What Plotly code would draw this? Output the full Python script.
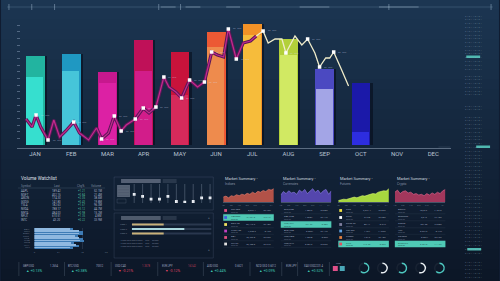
import plotly.graph_objects as go

W, H = 500, 281
def PX(x): return x / W
def PY(y): return 1 - y / H

# ---------------- data ----------------
months = ["JAN", "FEB", "MAR", "APR", "MAY", "JUN", "JUL", "AUG", "SEP", "OCT", "NOV", "DEC"]
bar_total = [134, 137, 110, 158, 140, 170, 182, 159, 114, 93]
bar_lower = [102, 111, 93, 111, 75, 147, 165, 135, 84, 20]
bar_upper_colors = ["#22b4a0", "#1f98c2", "#c7188e", "#bf1158", "#c8133b",
                    "#ec5934", "#f29227", "#b3d03a", "#4b49c1", "#1b19a9"]
bar_lower_colors = ["#36dfcf", "#46c5d9", "#dc21a4", "#d21d8a", "#d62a5b",
                    "#ee8b4d", "#f6bc3b", "#d1e963", "#a3a5e6", "#2d2de0"]

trend_a_x = [-0.25, -0.08, 0.03, 0.16, 0.36, 0.52, 0.68, 0.85, 1.07, 1.23, 1.48, 1.70,
             1.84, 2.03, 2.19, 2.38, 2.52, 2.77, 2.99, 3.15, 3.34, 3.56, 3.70, 3.89,
             4.05, 4.27, 4.49, 4.68, 4.88, 5.04, 5.21, 5.34, 5.56, 5.75, 5.95, 6.11]
trend_a_y = [39, 27, 45, 27, 7.5, 37.5, 12, 21, 34.5, 18, 7.5, 25.5,
             9, 18, 43.5, 21, 30, 39, 55.5, 48, 57, 102, 87, 79.5,
             70.5, 97.5, 87, 94.5, 139.5, 135, 132, 174, 129, 153, 156, 163.5]
trend_a_mark = [0, 0, 1, 0, 1, 0, 0, 0, 1, 0, 0, 0, 1, 0, 1, 1, 0, 1, 1, 0, 1, 1, 0, 0,
                1, 1, 0, 1, 1, 0, 0, 1, 1, 0, 0, 0]
trend_b_x = [6.11, 6.30, 6.44, 6.63, 6.82, 6.93, 7.18, 7.37, 7.53, 7.73, 7.86, 8.03, 8.14, 8.25, 8.47, 8.66]
trend_b_y = [163.5, 171, 153, 159, 159, 138, 163.5, 150, 159, 138, 117, 130.5, 130.5, 139.5, 112.5, 88.5]
trend_b_mark = [0, 1, 0, 0, 0, 1, 0, 0, 1, 0, 1, 0, 0, 1, 0, 0]

wl_header = ["Symbol", "Last", "Chg%", "Volume"]
wl_symbols = ["AAPL", "MSFT", "AMZN", "GOOG", "TSLA", "NVDA", "META", "NFLX", "INTC"]
wl_last = ["189.42", "402.15", "174.30", "141.80", "182.63", "788.17", "484.03", "610.51", "43.20"]
wl_chg = ["+1.21", "+0.84", "+2.05", "+0.43", "+1.67", "+3.12", "+0.98", "+1.35", "+0.22"]
wl_vol = ["52.1M", "21.4M", "38.6M", "19.8M", "96.3M", "44.7M", "15.2M", "4.8M", "33.9M"]
wl_volume_bars = [39, 49, 49, 44, 49, 50, 40, 45, 39]

slider_levels = [0.45, 0.35, 0.2, 0.2, 0.35, 0.08, 0.05, 0.08, 0.27, 0.27]
progress_values = [0.40, 0.66, 0.40]
progress_colors = ["#c9b27a", "#a9d6dc", "#c9b27a"]

panel_titles = ["Market Summary -"] * 4
panel_subtitles = ["Indices", "Currencies", "Futures", "Crypto"]
panel_fill = ["rgba(196,88,74,0.9)", "rgba(92,74,186,0.9)", "rgba(176,226,64,0.95)", "rgba(178,58,96,0.9)"]
panel_line = ["#e88070", "#8f80e8", "#d8f870", "#e06890"]
area_p1 = [0.35, 0.42, 0.30, 0.45, 0.40, 0.52, 0.45, 0.56, 0.50, 0.62, 0.55, 0.70, 0.60, 0.76, 0.70, 0.82, 0.75, 0.90, 0.85, 0.95]
area_p2 = [0.50, 0.75, 0.60, 0.80, 0.65, 0.70, 0.55, 0.85, 0.70, 0.90, 0.60, 0.75, 0.95, 0.70, 0.85, 0.60, 0.80, 0.90, 0.55, 0.80]
area_p3 = [0.10, 0.15, 0.20, 0.18, 0.25, 0.30, 0.35, 0.30, 0.40, 0.45, 0.42, 0.50, 0.55, 0.60, 0.58, 0.70, 0.75, 0.80, 0.78, 0.95]
area_p4 = [0.70, 0.85, 0.60, 0.75, 0.80, 0.65, 0.70, 0.55, 0.60, 0.50, 0.55, 0.45, 0.60, 0.50, 0.65, 0.55, 0.70, 0.60, 0.80, 0.90]
area_ticks = ["1D", "5D", "1M", "3M", "6M", "1Y", "5Y"]
panel_rows = [
    [("S&P 500", "5,234.1", "+0.42%"), ("NASDAQ", "16,401.8", "+0.61%"), ("DOW 30", "39,112.2", "+0.18%"),
     ("FTSE 100", "7,930.9", "-0.12%"), ("DAX", "18,492.5", "+0.33%"), ("NIKKEI", "40,168.0", "+0.27%")],
    [("EUR/USD", "1.0872", "+0.05%"), ("GBP/USD", "1.2654", "+0.11%"), ("USD/JPY", "151.32", "-0.08%"),
     ("AUD/USD", "0.6521", "+0.14%"), ("USD/CAD", "1.3578", "-0.03%"), ("USD/CHF", "0.9012", "+0.02%")],
    [("Gold", "2,231.4", "+0.52%"), ("Silver", "24.95", "+0.38%"), ("Crude Oil", "83.17", "-0.21%"),
     ("Nat Gas", "1.764", "+1.02%"), ("Copper", "4.012", "+0.15%"), ("Corn", "442.25", "-0.09%")],
    [("Bitcoin", "70,512", "+1.84%"), ("Ethereum", "3,612", "+2.10%"), ("Solana", "187.20", "+3.05%"),
     ("XRP", "0.6213", "-0.44%"), ("Cardano", "0.6541", "+0.72%"), ("Dogecoin", "0.2015", "+4.12%")],
]
panel_icon_colors = [["#e05080", "#4060e0", "#f0e060", "#c040c0", "#e05080", "#e0e0e0"],
                     None,
                     ["#f0e040", "#ffffff", "#8080a0", "#60a0e0", "#e08040", "#e05060"],
                     None]
panel_teal_row = [1, 2, 5, 5]

kpi_x = [17, 63, 110, 157, 203, 252, 300]
kpi_labels = ["GBP/USD", "BTC/USD", "USD/CAD", "EUR/JPY", "AUD/USD", "NZD/USD", "XAU/USD"]
kpi_right = ["1.2654", "70512", "1.3578", "163.42", "0.6521", "0.6012", "2231.4"]
kpi_values = ["▲ +0.13%", "▲ +0.38%", "▼ -0.21%", "▼ -0.12%", "▲ +0.44%", "▲ +0.09%", "▲ +0.52%"]
kpi_up = [1, 1, 0, 0, 1, 1, 1]

ring_fraction = [0.62, 0.55, 0.60, 0.55, 0.62]
ring_colors = ["#4ec8c0", "#e8eef2", "#4ec8c0", "#e8eef2", "#4ec8c0"]

# ---------------- figure ----------------
fig = go.Figure()
shapes, anns = [], []

def rect(x0, y0, x1, y1, fill=None, line=None, lw=0.6, layer="above"):
    shapes.append(dict(type="rect", xref="paper", yref="paper", x0=PX(x0), x1=PX(x1),
                       y0=PY(y1), y1=PY(y0), fillcolor=fill or "rgba(0,0,0,0)",
                       line=dict(color=line or "rgba(0,0,0,0)", width=lw if line else 0), layer=layer))

def hline(x0, x1, y, color, w=0.6, layer="above", dash=None):
    shapes.append(dict(type="line", xref="paper", yref="paper", x0=PX(x0), x1=PX(x1), y0=PY(y), y1=PY(y),
                       line=dict(color=color, width=w, dash=dash), layer=layer))

def vline(x, y0, y1, color, w=0.6, layer="above"):
    shapes.append(dict(type="line", xref="paper", yref="paper", x0=PX(x), x1=PX(x), y0=PY(y0), y1=PY(y1),
                       line=dict(color=color, width=w), layer=layer))

def text(x, y, s, size=3.5, color="rgba(200,210,225,0.75)", anchor="left", family="Roboto"):
    anns.append(dict(x=PX(x), y=PY(y), xref="paper", yref="paper", text=s, showarrow=False,
                     xanchor=anchor, yanchor="middle", font=dict(size=size, color=color, family=family)))

# background gradient
top_c, bot_c = (28, 54, 82), (12, 22, 38)
nb = 29
for i in range(nb):
    t = i / (nb - 1)
    c = tuple(int(top_c[k] + (bot_c[k] - top_c[k]) * t) for k in range(3))
    rect(-1, i * 10 - 1, 501, i * 10 + 10, fill="rgb(%d,%d,%d)" % c, layer="below")

# top strip
hline(5, 495, 7, "rgba(150,185,210,0.35)", 0.6)
for xx in [7, 30, 53, 158, 180, 390, 493]:
    vline(xx, 4, 10, "rgba(190,215,235,0.5)", 0.8)
for a, b in [(160, 175), (185, 200), (226, 240), (300, 330), (380, 420)]:
    hline(a, b, 7, "rgba(200,225,240,0.45)", 0.9)

# ---- main bars ----
idx = list(range(len(bar_total)))
fig.add_trace(go.Bar(x=idx, y=bar_total, width=0.52, offset=-0.2, marker=dict(color="rgba(2,6,18,0.5)", line_width=0),
                     hoverinfo="skip"))
fig.add_trace(go.Bar(x=idx, y=bar_total, width=0.52, offset=-0.26,
                     marker=dict(color=bar_upper_colors, line_width=0), hoverinfo="skip"))
fig.add_trace(go.Bar(x=idx, y=bar_lower, width=0.47, offset=-0.245,
                     marker=dict(color=bar_lower_colors, line_width=0), hoverinfo="skip"))

# trend lines
fig.add_trace(go.Scatter(x=trend_a_x, y=trend_a_y, mode="lines", line=dict(color="#5a1858", width=3.2),
                         hoverinfo="skip"))
fig.add_trace(go.Scatter(x=trend_a_x, y=trend_a_y, mode="lines", line=dict(color="#c42a8e", width=1.2),
                         hoverinfo="skip"))
fig.add_trace(go.Scatter(x=trend_b_x, y=trend_b_y, mode="lines", line=dict(color="#efebc9", width=1.3),
                         hoverinfo="skip"))
mx = [x for x, m in zip(trend_a_x + trend_b_x, trend_a_mark + trend_b_mark) if m]
my = [y for y, m in zip(trend_a_y + trend_b_y, trend_a_mark + trend_b_mark) if m]
fig.add_trace(go.Scatter(x=mx, y=my, mode="markers", marker=dict(symbol="square", size=3.5, color="#ffffff"),
                         hoverinfo="skip"))
for x, y in zip(mx, my):
    anns.append(dict(x=x, y=y, xref="x", yref="y", text="00 · 000", showarrow=False, xanchor="left",
                     yanchor="middle", xshift=2.5, font=dict(size=2.3, color="rgba(215,220,235,0.5)", family="Roboto")))

# ---- Volume watchlist ----
text(17, 179, "Volume Watchlist", 4.6, "rgba(235,240,248,0.95)")
cols = [(17, "left"), (55, "center"), (80, "center"), (103, "right")]
for (cx, an), h in zip(cols, wl_header):
    text(cx, 185.5, h, 3, "rgba(170,185,205,0.7)", an)
hline(16, 104, 188, "rgba(140,160,185,0.35)", 0.5)
for r in range(len(wl_symbols)):
    yy = 191 + r * 3.6
    text(17, yy, wl_symbols[r], 2.8, "rgba(210,220,232,0.8)", "left")
    text(55, yy, wl_last[r], 2.8, "rgba(210,220,232,0.8)", "center")
    text(80, yy, wl_chg[r], 2.8, "rgba(90,210,170,0.85)", "center")
    text(103, yy, wl_vol[r], 2.8, "rgba(210,220,232,0.8)", "right")
fig.add_trace(go.Bar(y=list(range(len(wl_volume_bars)))[::-1], x=wl_volume_bars, orientation="h", width=0.75,
                     marker=dict(color="#3e7cb6", line_width=0), xaxis="x2", yaxis="y2", hoverinfo="skip"))
fig.add_trace(go.Bar(y=list(range(len(wl_volume_bars)))[::-1], x=[v * 0.93 for v in wl_volume_bars],
                     orientation="h", width=0.3, offset=0.05,
                     marker=dict(color="#8fb8e0", line_width=0), xaxis="x2", yaxis="y2", hoverinfo="skip"))
for r in range(len(wl_volume_bars)):
    text(30, 229.3 + r * 2.25, wl_symbols[r], 2.2, "rgba(170,185,205,0.5)", "right")

# ---- middle control panel ----
rect(113, 177, 213, 210, line="rgba(120,140,170,0.3)", lw=0.6)
rect(113, 213, 213, 258, line="rgba(120,140,170,0.3)", lw=0.6)
rect(120, 179, 160, 183, fill="rgba(140,150,168,0.55)")
rect(162, 179, 176, 183, fill="rgba(140,150,168,0.2)")
rect(116, 185, 129, 197, fill="rgba(170,180,195,0.45)")
for k in range(4):
    hline(117, 128, 187 + k * 2.8, "rgba(60,75,95,0.6)", 0.5)
rect(116, 199, 125, 203, line="rgba(150,165,185,0.35)", lw=0.5)
for k, lv in enumerate(slider_levels):
    shapes.append(dict(type="line", xref="x7", yref="y7", x0=k, x1=k, y0=0, y1=1,
                       line=dict(color="rgba(160,175,195,0.4)", width=0.8)))
fig.add_trace(go.Scatter(x=list(range(len(slider_levels))), y=slider_levels, mode="markers",
                         marker=dict(symbol="square", size=2.8, color="#f4f6fa"), xaxis="x7", yaxis="y7",
                         hoverinfo="skip"))
rect(120, 216, 160, 220, fill="rgba(140,150,168,0.5)")
rect(162, 216, 176, 220, fill="rgba(140,150,168,0.2)")
text(209, 218, "●", 3, "rgba(170,185,205,0.5)", "center")
text(209, 250, "●", 3, "rgba(170,185,205,0.5)", "center")
for k, (v, c) in enumerate(zip(progress_values, progress_colors)):
    yy = 224.5 + k * 4.5
    text(117, yy, "ITEM %d" % (k + 1), 2.3, "rgba(170,185,205,0.6)")
    rect(131, yy - 0.9, 211, yy + 0.9, fill="rgba(60,75,100,0.6)")
    rect(131, yy - 0.9, 131 + 80 * v, yy + 0.9, fill=c)
for k in range(3):
    text(117, 240 + k * 3.5, "• 0000 000 0000 0000  ·  000  ·  00000", 2.3, "rgba(170,185,205,0.55)")

# ---- market summary panels ----
panel_x0 = [222, 280, 338, 395]
area_sets = [area_p1, area_p2, area_p3, area_p4]
row_y = [210.5, 217.5, 224.5, 231, 237.5, 244]
for p in range(4):
    x0 = panel_x0[p]
    text(x0 + 1, 178, panel_titles[p], 4.0, "rgba(225,232,242,0.9)")
    text(x0 + 1, 183.5, panel_subtitles[p], 3.2, "rgba(175,188,205,0.75)")
    ax = 3 + p
    fig.add_trace(go.Scatter(x=list(range(len(area_sets[p]))), y=area_sets[p], mode="lines", fill="tozeroy",
                             fillcolor=panel_fill[p], line=dict(color=panel_line[p], width=0.6),
                             xaxis="x%d" % ax, yaxis="y%d" % ax, hoverinfo="skip"))
    tr = panel_teal_row[p]
    for r, (nm, pr, ch) in enumerate(panel_rows[p]):
        yy = row_y[r]
        if r == tr:
            rect(x0 + 1, yy - 3.2, x0 + 52, yy + 3.2, fill="#4fc9b5")
            tc = "rgba(20,60,60,0.8)"
        else:
            tc = "rgba(205,215,228,0.75)"
            hline(x0 + 1, x0 + 52, yy + 3.3, "rgba(120,140,165,0.25)", 0.4)
        lx = x0 + 2
        if panel_icon_colors[p]:
            rect(x0 + 2, yy - 1.4, x0 + 4.8, yy + 1.4, fill=panel_icon_colors[p][r])
            lx = x0 + 7
        text(lx, yy - 0.8, nm, 2.4, tc)
        text(lx, yy + 1.1, "0000 00", 1.9, "rgba(160,175,195,0.55)" if r != tr else tc)
        text(x0 + 36, yy, pr, 2.4, tc, "right")
        text(x0 + 51, yy, ch, 2.4, tc, "right")

# ---- KPI strip ----
for xx in [17, 63, 110, 157, 203, 250, 282, 298, 330]:
    vline(xx, 262, 276, "rgba(150,170,190,0.35)", 0.6)
for k, x in enumerate(kpi_x):
    text(x + 2, 265.5, kpi_labels[k], 2.6, "rgba(200,210,225,0.8)")
    text(x + 42 if x < 250 else x + 27, 265.5, kpi_right[k], 2.6,
         "rgba(200,210,225,0.8)" if kpi_up[k] else "rgba(220,70,100,0.85)", "right")
    text(x + 5, 270.5, kpi_values[k], 3.6, "#3fc6b0" if kpi_up[k] else "#de4360")
text(284, 265.5, "EUR/JPY", 2.6, "rgba(200,210,225,0.8)")
text(335, 263.5, "USD", 2.4, "rgba(200,210,225,0.7)")
rect(333.5, 266, 338.5, 271, fill="#e0508a")
rect(340.5, 266, 345.5, 271, fill="#4aa8b8")

# rings
ring_cx = [365, 383.5, 403, 422, 441]
for c, f, col in zip(ring_cx, ring_fraction, ring_colors):
    fig.add_trace(go.Pie(values=[f, 1 - f], sort=False, direction="clockwise", hole=0.74,
                         marker=dict(colors=[col, "rgba(255,255,255,0.05)"], line=dict(width=0)),
                         textinfo="none", hoverinfo="skip", showlegend=False,
                         domain=dict(x=[PX(c - 5.5), PX(c + 5.5)], y=[PY(273.5), PY(262.5)])))

# ---- right column grid ----
groups = [(16, 72), (76, 98), (106, 111), (117, 178), (181, 190), (196, 256), (262, 281)]
for g0, g1 in groups:
    yy = g0
    while yy <= g1:
        text(465, yy, "0 1 0 1 1 0 1 0 1", 2.4, "rgba(165,185,205,0.5)")
        yy += 3.8
rect(468, 55.5, 482, 58, fill="#4fb8b0")
rect(478, 145.5, 492, 148, fill="#4fb8b0")
rect(469, 248, 483, 250.5, fill="#4fb8b0")
hline(440, 452, 147, "rgba(140,160,185,0.35)", 0.5)

# ---------------- layout ----------------
layout = dict(
    width=W, height=H, autosize=False, margin=dict(l=0, r=0, t=0, b=0, pad=0),
    paper_bgcolor="#101c31", plot_bgcolor="rgba(0,0,0,0)", showlegend=False, barmode="overlay",
    bargap=0,
    xaxis=dict(domain=[PX(15), PX(453)], range=[-0.5, 11.5], tickvals=list(range(12)), ticktext=months,
               tickfont=dict(size=6, color="#b9c3d3", family="Roboto"), showgrid=False, zeroline=False,
               showline=True, linecolor="rgba(150,165,185,0.55)", linewidth=1, ticks="", fixedrange=True),
    yaxis=dict(domain=[PY(148), PY(20)], range=[-4.5, 187.5], showgrid=False, zeroline=False,
               ticks="inside", tickvals=list(range(10, 190, 10)), ticklen=3,
               tickcolor="rgba(140,160,185,0.5)", showticklabels=False, showline=False),
    xaxis2=dict(domain=[PX(32.7), PX(105)], range=[0, 72], anchor="y2", showgrid=True,
                gridcolor="rgba(120,140,165,0.2)", gridwidth=0.5, tickvals=[0, 24, 48, 72],
                tickfont=dict(size=2.5, color="rgba(170,185,205,0.6)"), zeroline=False, showline=False),
    yaxis2=dict(domain=[PY(249), PY(228)], range=[-0.5, 8.5], anchor="x2", visible=False),
    xaxis7=dict(domain=[PX(129), PX(214)], range=[-0.5, 9.5], anchor="y7", visible=False),
    yaxis7=dict(domain=[PY(203), PY(184)], range=[0, 1], anchor="x7", visible=False),
    shapes=shapes, annotations=anns,
)
for p in range(4):
    ax = 3 + p
    x0 = panel_x0[p]
    layout["xaxis%d" % ax] = dict(domain=[PX(x0 + 1), PX(x0 + 52)], range=[0, 19], anchor="y%d" % ax,
                                 tickvals=[0, 3, 6, 9, 12, 15, 18], ticktext=area_ticks, showgrid=False,
                                 zeroline=False, showline=True, linecolor="rgba(150,165,185,0.4)", linewidth=0.5,
                                 tickfont=dict(size=2.4, color="rgba(170,185,205,0.65)"), ticks="")
    layout["yaxis%d" % ax] = dict(domain=[PY(202), PY(188)], range=[0, 1], anchor="x%d" % ax, visible=False)

fig.update_layout(**layout)
fig.write_html("out.html", config={"displayModeBar": False})
